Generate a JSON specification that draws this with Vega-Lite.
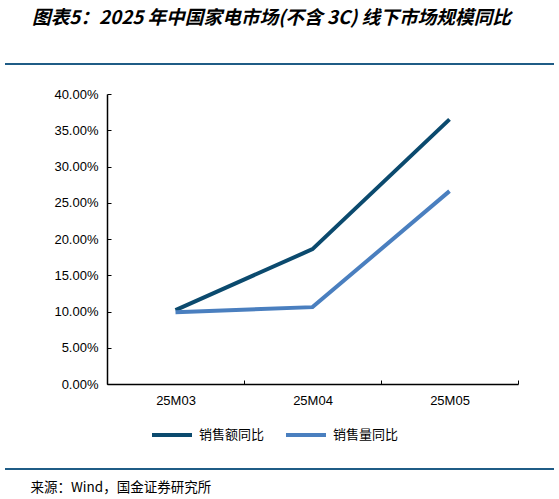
{
  "$schema": "https://vega.github.io/schema/vega-lite/v6.json",
  "width": 411,
  "height": 290,
  "autosize": {"type": "none"},
  "padding": {"left": 107, "top": 94, "right": 41, "bottom": 115},
  "background": "white",
  "title": {
    "text": "图表5：2025 年中国家电市场(不含 3C) 线下市场规模同比",
    "anchor": "start",
    "frame": "group",
    "dx": -75,
    "offset": 35,
    "fontSize": 18.7,
    "fontWeight": "bold",
    "fontStyle": "italic",
    "font": "Noto Sans CJK SC",
    "color": "#000000"
  },
  "config": {"view": {"stroke": null}},
  "layer": [
    {
      "data": {
        "values": [
          {"month": "25M03", "series": "销售额同比", "value": 0.102},
          {"month": "25M04", "series": "销售额同比", "value": 0.186},
          {"month": "25M05", "series": "销售额同比", "value": 0.365},
          {"month": "25M03", "series": "销售量同比", "value": 0.099},
          {"month": "25M04", "series": "销售量同比", "value": 0.106},
          {"month": "25M05", "series": "销售量同比", "value": 0.266}
        ]
      },
      "mark": {"type": "line", "strokeWidth": 4},
      "encoding": {
        "x": {
          "field": "month",
          "type": "nominal",
          "bandPosition": 0.5,
          "scale": {"type": "band", "paddingInner": 0, "paddingOuter": 0},
          "axis": {
            "title": "来源：Wind，国金证券研究所",
            "titleX": -77,
            "titleY": 103,
            "titleAnchor": "start",
            "titleAlign": "left",
            "titleBaseline": "middle",
            "titleFont": "Noto Sans CJK SC",
            "titleFontSize": 13.5,
            "titleFontWeight": "normal",
            "titleColor": "#000000",
            "labelAngle": 0,
            "labelFont": "Liberation Sans",
            "labelFontSize": 13,
            "labelColor": "#000000",
            "labelPadding": 14,
            "tickBand": "extent",
            "tickSize": -4,
            "tickColor": "#000000",
            "domainColor": "#000000",
            "domainWidth": 1.5
          }
        },
        "y": {
          "field": "value",
          "type": "quantitative",
          "scale": {"domain": [0, 0.4], "nice": false},
          "axis": {
            "title": null,
            "format": ".2%",
            "values": [0, 0.05, 0.1, 0.15, 0.2, 0.25, 0.3, 0.35, 0.4],
            "grid": false,
            "labelFont": "Liberation Sans",
            "labelFontSize": 13,
            "labelColor": "#000000",
            "labelPadding": 13,
            "tickSize": -4,
            "tickColor": "#000000",
            "domainColor": "#000000",
            "domainWidth": 1.5
          }
        },
        "color": {
          "field": "series",
          "type": "nominal",
          "scale": {"domain": ["销售额同比", "销售量同比"], "range": ["#0b4a6e", "#4a7fbf"]},
          "legend": {
            "title": null,
            "orient": "none",
            "direction": "horizontal",
            "legendX": 43,
            "legendY": 319,
            "symbolType": "stroke",
            "symbolSize": 1600,
            "symbolStrokeWidth": 4,
            "labelFont": "Noto Sans CJK SC",
            "labelFontSize": 13,
            "labelColor": "#000000",
            "labelOffset": 5,
            "columnPadding": 13
          }
        }
      }
    },
    {
      "data": {"values": [{"pos": "top"}]},
      "mark": {"type": "rule", "color": "#1f5c86", "strokeWidth": 2, "clip": false},
      "encoding": {"x": {"value": -102}, "x2": {"value": 447}, "y": {"value": -30}}
    },
    {
      "data": {"values": [{"pos": "bottom"}]},
      "mark": {"type": "rule", "color": "#1f5c86", "strokeWidth": 2, "clip": false},
      "encoding": {"x": {"value": -102}, "x2": {"value": 447}, "y": {"value": 375}}
    }
  ]
}
